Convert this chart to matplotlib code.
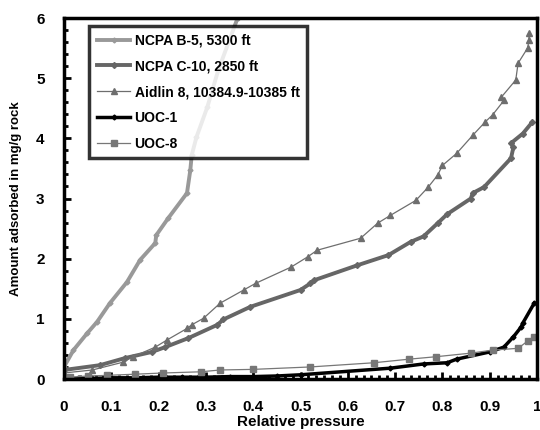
import matplotlib.pyplot as plt
from matplotlib.ticker import AutoMinorLocator

plt.rcParams['font.family'] = ['Liberation Sans', 'DejaVu Sans']
plt.rcParams['font.weight'] = 'bold'

# adsorption isotherms, relative pressure vs amount adsorbed (mg/g rock)
b5_x = [0.0, 0.02, 0.049, 0.07, 0.097, 0.133, 0.161, 0.193, 0.195, 0.22, 0.26, 0.267,
        0.27, 0.28, 0.303, 0.326, 0.367]
b5_y = [0.2, 0.48, 0.76, 0.95, 1.26, 1.61, 1.98, 2.26, 2.39, 2.67, 3.09, 3.47,
        3.72, 4.02, 4.52, 5.13, 6.0]

c10_x = [0.0, 0.076, 0.13, 0.186, 0.214, 0.263, 0.324, 0.337, 0.394, 0.5, 0.521, 0.528,
         0.62, 0.686, 0.733, 0.76, 0.79, 0.81, 0.86, 0.864, 0.888, 0.945, 0.95, 0.945,
         0.97, 0.99]
c10_y = [0.15, 0.23, 0.35, 0.45, 0.53, 0.68, 0.90, 0.99, 1.2, 1.48, 1.59, 1.64,
         1.89, 2.06, 2.28, 2.37, 2.59, 2.74, 3.0, 3.09, 3.19, 3.67, 3.85, 3.92,
         4.08, 4.27]

aid_x = [0.0, 0.06, 0.125, 0.146, 0.193, 0.218, 0.26, 0.27, 0.295, 0.33, 0.38, 0.405,
         0.48, 0.515, 0.535, 0.627, 0.663, 0.69, 0.744, 0.77, 0.79, 0.80, 0.83, 0.864,
         0.89, 0.906, 0.93, 0.924, 0.955, 0.96, 0.98, 0.983, 0.983]
aid_y = [0.1, 0.15, 0.28, 0.37, 0.53, 0.65, 0.84, 0.90, 1.01, 1.26, 1.48, 1.59,
         1.86, 2.03, 2.14, 2.34, 2.59, 2.72, 2.97, 3.19, 3.39, 3.55, 3.75, 4.05,
         4.27, 4.39, 4.63, 4.68, 4.97, 5.25, 5.5, 5.63, 5.75]

uoc1_x = [0.0, 0.03, 0.06, 0.1, 0.15, 0.2, 0.25, 0.3, 0.35, 0.4, 0.45, 0.5, 0.69, 0.76,
          0.81, 0.83, 0.90, 0.93, 0.95, 0.966, 0.97, 0.994]
uoc1_y = [0.0, 0.01, 0.01, 0.02, 0.02, 0.03, 0.03, 0.03, 0.04, 0.04, 0.05, 0.07, 0.18, 0.25,
          0.27, 0.33, 0.45, 0.53, 0.70, 0.86, 0.93, 1.26]

uoc8_x = [0.0, 0.013, 0.05, 0.09, 0.15, 0.21, 0.29, 0.33, 0.40, 0.52, 0.655, 0.73,
          0.786, 0.86, 0.906, 0.96, 0.98, 0.994]
uoc8_y = [0.0, 0.03, 0.05, 0.06, 0.08, 0.10, 0.12, 0.15, 0.16, 0.2, 0.27, 0.33,
          0.37, 0.43, 0.48, 0.51, 0.63, 0.70]

x_ticks = [0, 0.1, 0.2, 0.3, 0.4, 0.5, 0.6, 0.7, 0.8, 0.9, 1]
x_labels = ['0', '0.1', '0.2', '0.3', '0.4', '0.5', '0.6', '0.7', '0.8', '0.9', '1']
y_ticks = [0, 1, 2, 3, 4, 5, 6]

fig = plt.figure(figsize=(5.4, 4.3), dpi=100)
ax = fig.add_axes([0.1185, 0.1186, 0.876, 0.8394])

ax.plot(b5_x, b5_y, color='#999999', lw=2.8, marker='D', ms=2.5, label='NCPA B-5, 5300 ft')
ax.plot(c10_x, c10_y, color='#666666', lw=2.8, marker='D', ms=3, label='NCPA C-10, 2850 ft')
ax.plot(aid_x, aid_y, color='#6e6e6e', lw=0.9, marker='^', ms=5, label='Aidlin 8, 10384.9-10385 ft')
ax.plot(uoc1_x, uoc1_y, color='black', lw=2.5, marker='D', ms=2.5, label='UOC-1')
ax.plot(uoc8_x, uoc8_y, color='#777777', lw=0.9, marker='s', ms=4.5, label='UOC-8')

ax.set_xlim(0, 1)
ax.set_ylim(0, 6)
ax.set_xticks(x_ticks)
ax.set_xticklabels(x_labels)
ax.set_yticks(y_ticks)
ax.xaxis.set_minor_locator(AutoMinorLocator(6))
ax.yaxis.set_minor_locator(AutoMinorLocator(5))
ax.tick_params(which='both', direction='in', width=2, labelsize=11)
ax.tick_params(which='major', length=5)
ax.tick_params(axis='x', which='major', pad=15)
ax.tick_params(axis='y', which='major', pad=14)
ax.tick_params(which='minor', length=3)
for sp in ax.spines.values():
    sp.set_linewidth(2.5)

ax.set_xlabel('Relative pressure', fontsize=11, fontweight='bold', labelpad=1)
ax.set_ylabel('Amount adsorbed in mg/g rock', fontsize=9.5, fontweight='bold', labelpad=10)

leg = ax.legend(loc='upper left', bbox_to_anchor=(0.045, 0.99), fontsize=10,
                frameon=True, fancybox=False, handlelength=2.4, handletextpad=0.3,
                borderpad=0.55, labelspacing=0.85, borderaxespad=0.3)
leg.get_frame().set_edgecolor('black')
leg.get_frame().set_linewidth(2.5)
for t in leg.get_texts():
    t.set_fontweight('bold')

fig.savefig('out.png', dpi=100)
